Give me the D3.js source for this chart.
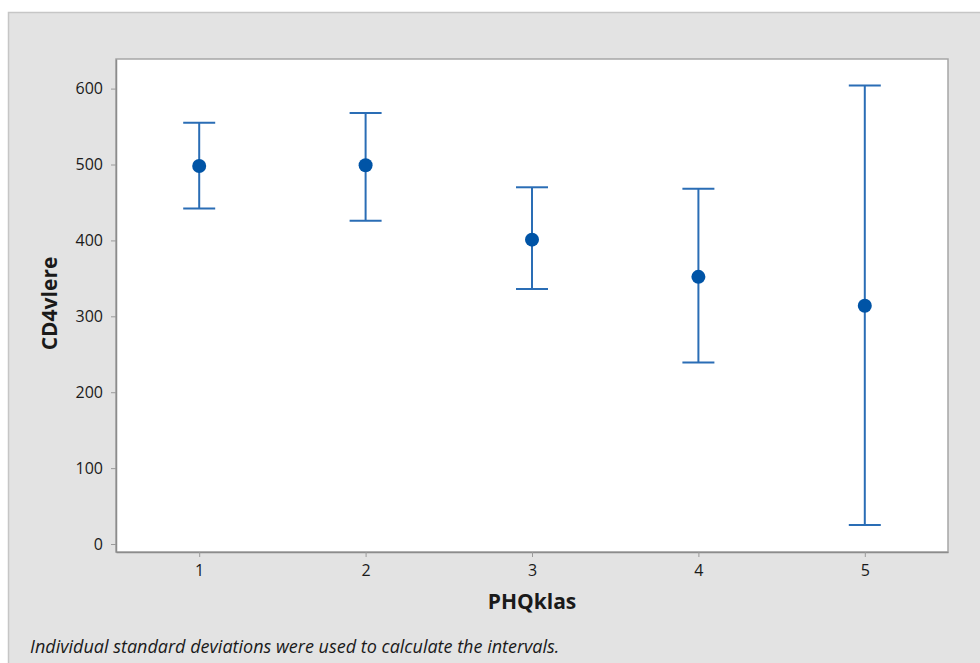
<!DOCTYPE html>
<html lang="en">
  <head>
    <meta charset="utf-8">
    <title>Interval plot of CD4vlere vs PHQklas</title>
    <script src="https://d3js.org/d3.v7.min.js"></script>
    <style>
      body { margin: 0; background: #fff; }
      svg { display: block; }
    </style>
  </head>
  <body>
    <svg></svg>

    <script>
      // data
      const categories = ['1', '2', '3', '4', '5']
      const means = [498, 499, 401, 352, 314]
      const upper = [555, 568, 470, 468, 604]
      const lower = [442, 426, 336, 239, 25]
      const yTicks = [0, 100, 200, 300, 400, 500, 600]

      const width = 980, height = 663
      const font = '"Open Sans", "Noto Sans", sans-serif'
      const svg = d3.select('svg')
        .attr('width', width)
        .attr('height', height)
        .attr('font-family', font)

      // grey frame
      svg.append('rect')
        .attr('x', 8.5).attr('y', 12.5)
        .attr('width', width).attr('height', height)
        .attr('fill', '#e3e3e3')
        .attr('stroke', '#c6c6c6')
        .attr('stroke-width', 1.5)

      const plot = { left: 116, top: 59, right: 948, bottom: 552 }

      const x = d3.scalePoint()
        .domain(categories)
        .range([plot.left, plot.right])
        .padding(0.5)

      const y = d3.scaleLinear()
        .domain([-10.5, 639])
        .range([plot.bottom, plot.top])

      svg.append('rect')
        .attr('x', plot.left).attr('y', plot.top)
        .attr('width', plot.right - plot.left)
        .attr('height', plot.bottom - plot.top)
        .attr('fill', '#fff')
        .attr('stroke', '#a6a6a6')
        .attr('stroke-width', 1.5)

      // axes
      const yAxis = svg.append('g')
        .attr('transform', `translate(${plot.left},0)`)
        .call(d3.axisLeft(y).tickValues(yTicks).tickSize(5).tickSizeOuter(0).tickPadding(8))
      const xAxis = svg.append('g')
        .attr('transform', `translate(0,${plot.bottom})`)
        .call(d3.axisBottom(x).tickSize(5).tickSizeOuter(0).tickPadding(8))

      for (const ax of [yAxis, xAxis]) {
        ax.attr('font-family', font).attr('font-size', 16)
        ax.select('.domain').attr('stroke', '#8c8c8c').attr('stroke-width', 1.5)
        ax.selectAll('.tick line').attr('stroke', '#9a9a9a')
        ax.selectAll('.tick text').attr('fill', '#1a1a1a')
      }

      // axis titles
      svg.append('text')
        .attr('transform', `translate(57,${(plot.top + plot.bottom) / 2 - 2}) rotate(-90)`)
        .attr('text-anchor', 'middle')
        .attr('font-size', 21)
        .attr('font-weight', 'bold')
        .attr('fill', '#1a1a1a')
        .text('CD4vlere')

      svg.append('text')
        .attr('x', (plot.left + plot.right) / 2)
        .attr('y', 609)
        .attr('text-anchor', 'middle')
        .attr('font-size', 21)
        .attr('font-weight', 'bold')
        .attr('fill', '#1a1a1a')
        .text('PHQklas')

      svg.append('text')
        .attr('x', 30)
        .attr('y', 653)
        .attr('font-size', 18)
        .attr('font-style', 'italic')
        .attr('fill', '#1a1a1a')
        .text('Individual standard deviations were used to calculate the intervals.')

      // intervals
      const data = categories.map((c, i) => ({ c, m: means[i], lo: lower[i], hi: upper[i] }))
      const lineColor = '#2a6db5'
      const capHalf = 16

      const g = svg.append('g')
        .selectAll('g')
        .data(data)
        .join('g')

      g.append('line')
        .attr('x1', d => x(d.c)).attr('x2', d => x(d.c))
        .attr('y1', d => y(d.hi)).attr('y2', d => y(d.lo))
        .attr('stroke', lineColor).attr('stroke-width', 2)

      g.append('line')
        .attr('x1', d => x(d.c) - capHalf).attr('x2', d => x(d.c) + capHalf)
        .attr('y1', d => y(d.hi)).attr('y2', d => y(d.hi))
        .attr('stroke', lineColor).attr('stroke-width', 2)

      g.append('line')
        .attr('x1', d => x(d.c) - capHalf).attr('x2', d => x(d.c) + capHalf)
        .attr('y1', d => y(d.lo)).attr('y2', d => y(d.lo))
        .attr('stroke', lineColor).attr('stroke-width', 2)

      g.append('circle')
        .attr('cx', d => x(d.c))
        .attr('cy', d => y(d.m))
        .attr('r', 7)
        .attr('fill', '#0054a6')
    </script>
  </body>
</html>
